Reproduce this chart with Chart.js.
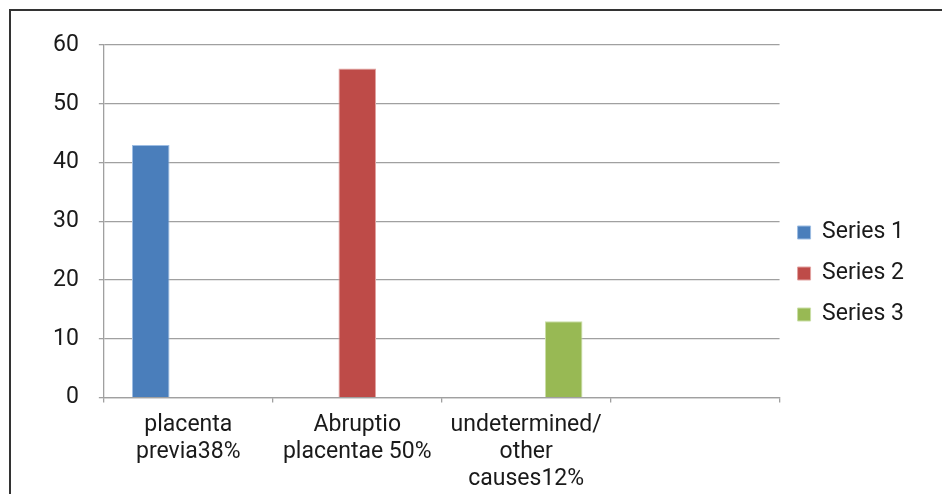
<!DOCTYPE html>
<html>
<head>
<meta charset="utf-8">
<title>Causes</title>
<script src="https://cdn.jsdelivr.net/npm/chart.js@4.4.1/dist/chart.umd.min.js"></script>
<style>
  html, body { margin: 0; padding: 0; width: 942px; height: 494px; overflow: hidden; background: #fff; }
  #frame { position: absolute; left: 9px; top: 9px; width: 960px; height: 520px;
           border-left: 2px solid #333; border-top: 2px solid #333; }
  #c { position: absolute; left: 11px; top: 11px; }
</style>
</head>
<body>
<div id="frame"></div>
<canvas id="c" width="931" height="518"></canvas>
<script>
// Category labels (multi-line) and the three series
const categories = [
  ["placenta", "previa38%"],
  ["Abruptio", "placentae 50%"],
  ["undetermined/", "other", "causes12%"],
  ""
];
const seriesNames = ["Series 1", "Series 2", "Series 3"];
const series1 = [43, null, null, null];
const series2 = [null, 56, null, null];
const series3 = [null, null, 13, null];
const yTicks = [0, 10, 20, 30, 40, 50, 60];

const fills = ["#4a7ebb", "#be4b48", "#98b954"];
const edges = ["#9dbde3", "#e2a3a1", "#cadfa6"];
const FONT = "Roboto";

const datasets = [series1, series2, series3].map((d, i) => ({
  label: seriesNames[i],
  data: d,
  backgroundColor: fills[i],
  borderColor: edges[i],
  borderWidth: 1,
  categoryPercentage: 3 / 4.5,
  barPercentage: 1.0
}));

new Chart(document.getElementById("c"), {
  type: "bar",
  data: { labels: categories, datasets },
  options: {
    responsive: false,
    animation: false,
    devicePixelRatio: 1,
    layout: { padding: { left: 22, top: 34, right: 28, bottom: 27 } },
    plugins: {
      tooltip: { enabled: false },
      legend: {
        position: "right",
        labels: {
          boxWidth: 13,
          boxHeight: 13,
          padding: 18,
          color: "#1a1a1a",
          font: { family: FONT, size: 23, lineHeight: 0.93 }
        }
      }
    },
    scales: {
      x: {
        // keep the plot edge fixed; labels sit well inside their categories
        afterFit: (s) => { s.paddingLeft = 0; s.paddingRight = 0; },
        grid: { display: true, drawOnChartArea: false, drawTicks: true, tickLength: 5, color: "#a0a0a0", lineWidth: 1.3 },
        border: { display: true, color: "#a0a0a0", width: 1.3 },
        ticks: {
          color: "#1a1a1a",
          padding: 9,
          maxRotation: 0,
          autoSkip: false,
          font: { family: FONT, size: 23, lineHeight: 1.18 }
        }
      },
      y: {
        min: 0,
        max: 60,
        afterBuildTicks: (axis) => { axis.ticks = yTicks.map(v => ({ value: v })); },
        grid: { color: "#a0a0a0", lineWidth: 1.3, tickLength: 5 },
        border: { display: true, color: "#a0a0a0", width: 1.3 },
        ticks: {
          color: "#1a1a1a",
          padding: 20,
          font: { family: FONT, size: 23 }
        }
      }
    }
  }
});
</script>
</body>
</html>
